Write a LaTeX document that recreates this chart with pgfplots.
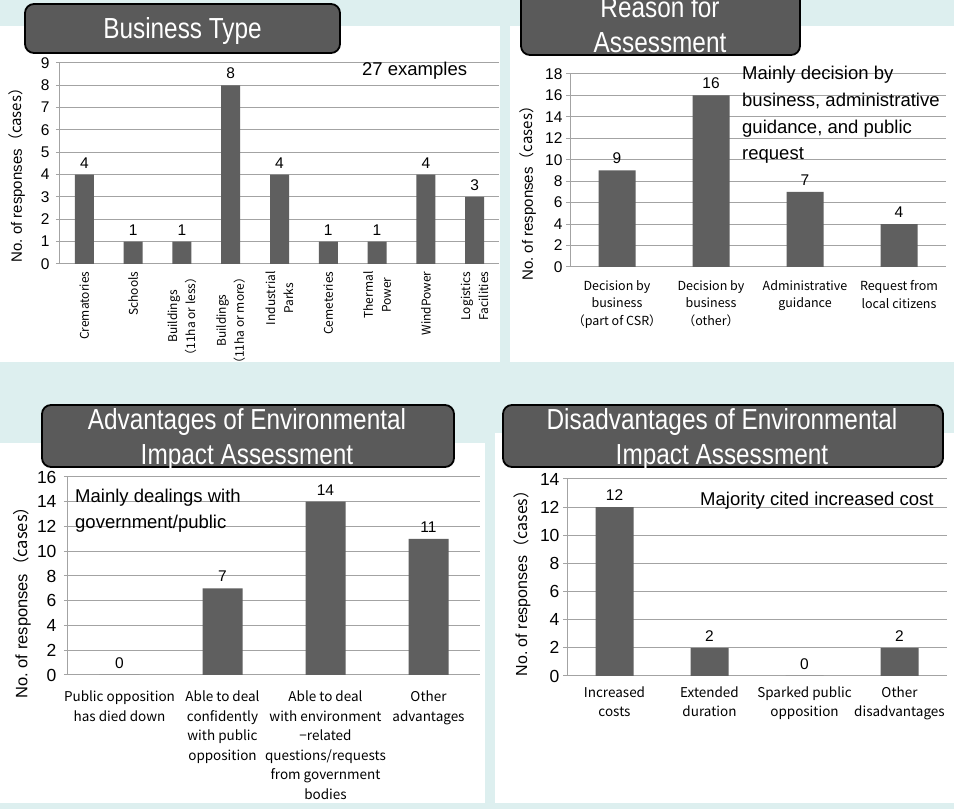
\documentclass[border=0pt]{standalone}
\usepackage{fontspec}
\setmainfont{Liberation Sans}
\newfontfamily\titlefont[FakeStretch=0.84]{Liberation Sans}
\newfontfamily\cjk{Noto Sans CJK JP}
\usepackage{pgfplots}
\pgfplotsset{compat=1.18}

\definecolor{bgc}{HTML}{DDEFEF}
\definecolor{barc}{HTML}{5F5F5F}
\definecolor{gridc}{HTML}{A3A3A3}
\definecolor{titc}{HTML}{5A5A5A}

\newcommand\fs[2]{\fontsize{#1}{#2}\selectfont}

\pgfplotsset{
  panel/.style={
    scale only axis,
    ybar,
    enlargelimits=false,
    clip=false,
    axis x line*=bottom, axis y line*=left,
    axis line style={draw=gridc, line width=1pt, -},
    ymajorgrids, grid style={draw=gridc, line width=1pt},
    ymin=0,
    xtick=data,
    major x tick style={draw=none},
    major y tick style={draw=gridc, line width=1pt},
    tick align=outside, major tick length=4pt,
    /pgf/number format/assume math mode=true,
    xticklabel style={align=center},
    nodes near coords,
    every node near coord/.append style={font=\fs{15.5}{18}, yshift=3pt, text=black},
    ylabel={No.\ of responses\cjk{（}cases\cjk{）}},
  }
}

\begin{document}
\begin{tikzpicture}[x=1pt,y=1pt]
\useasboundingbox (0pt,0pt) rectangle (954pt,809pt);
\clip (0pt,0pt) rectangle (954pt,809pt);
\fill[bgc] (0pt,0pt) rectangle (954pt,809pt);
% white panels
\fill[white] (0pt,447pt) rectangle (500pt,783pt);
\fill[white] (510pt,447pt) rectangle (954pt,783pt);
\fill[white] (0pt,6pt) rectangle (485pt,366pt);
\fill[white] (495pt,6pt) rectangle (954pt,376pt);

% Panel 1: Business Type
\begin{axis}[panel,
  at={(60pt,545pt)}, anchor=south west,
  width=439pt, height=201pt,
  xmin=-0.5, xmax=8.5, ymax=9,
  ytick={0,1,...,9},
  bar width=19pt,
  y tick label style={font=\fs{15.5}{18}, xshift=-3pt},
  ylabel style={font=\fs{15}{18}, at={(axis description cs:0,0.46)}, anchor=center, yshift=43pt},
  xticklabels={Crematories, Schools, {Buildings\\（11ha or less）}, {Buildings\\（11ha or more）}, {Industrial\\Parks}, Cemeteries, {Thermal\\Power}, WindPower, {Logistics\\Facilities}},
  xticklabel style={rotate=90, anchor=east, font=\cjk\fs{12}{18}},
]
\addplot[fill=barc, draw=none] coordinates {(0,4) (1,1) (2,1) (3,8) (4,4) (5,1) (6,1) (7,4) (8,3)};
\end{axis}

% Panel 2: Reason for Assessment
\begin{axis}[panel,
  at={(570pt,542pt)}, anchor=south west,
  width=376pt, height=193pt,
  xmin=-0.5, xmax=3.5, ymax=18,
  ytick={0,2,...,18},
  bar width=37pt,
  y tick label style={font=\fs{15.5}{18}},
  ylabel style={font=\fs{15}{18}, at={(axis description cs:0,0.40)}, anchor=center, yshift=42pt},
  xticklabels={{Decision by\\business\\（part of CSR）}, {Decision by\\business\\（other）}, {Administrative\\guidance}, {Request from\\local citizens}},
  xticklabel style={anchor=north, font=\cjk\fs{12.5}{17.5}, yshift=-6pt},
]
\addplot[fill=barc, draw=none] coordinates {(0,9) (1,16) (2,7) (3,4)};
\end{axis}

% Panel 3: Advantages
\begin{axis}[panel,
  at={(68pt,134pt)}, anchor=south west,
  width=412pt, height=198pt,
  xmin=-0.5, xmax=3.5, ymax=16,
  ytick={0,2,...,16},
  bar width=40pt,
  y tick label style={font=\fs{17.5}{20}, xshift=-4pt},
  ylabel style={font=\fs{16.5}{20}, at={(axis description cs:0,0.386)}, anchor=center, yshift=46pt},
  xticklabels={{Public opposition\\has died down}, {Able to deal\\confidently\\with public\\opposition}, {Able to deal\\with environment\\−related\\questions/requests\\from government\\bodies}, {Other\\advantages}},
  xticklabel style={anchor=north, font=\cjk\fs{13.5}{19.5}, yshift=-8.5pt},
]
\addplot[fill=barc, draw=none] coordinates {(0,0) (1,7) (2,14) (3,11)};
\end{axis}

% Panel 4: Disadvantages
\begin{axis}[panel,
  at={(567pt,133pt)}, anchor=south west,
  width=380pt, height=197pt,
  xmin=-0.5, xmax=3.5, ymax=14,
  ytick={0,2,...,14},
  bar width=38pt,
  y tick label style={font=\fs{17.5}{20}},
  ylabel style={font=\fs{16}{20}, at={(axis description cs:0,0.49)}, anchor=center, yshift=45pt},
  xticklabels={{Increased\\costs}, {Extended\\duration}, {Sparked public\\opposition}, {Other\\disadvantages}},
  xticklabel style={anchor=north, font=\cjk\fs{13.5}{19}, yshift=-3pt},
]
\addplot[fill=barc, draw=none] coordinates {(0,12) (1,2) (2,0) (3,2)};
\end{axis}

% Title boxes
\tikzset{tbox/.style={fill=titc, draw=black, line width=1.8pt, rounded corners=9pt},
         ttext/.style={text=white, font=\titlefont\fs{29}{35}, anchor=base, inner sep=0pt}}
\draw[tbox] (25pt,756pt) rectangle (340pt,805pt);
\node[ttext] at (182.5pt,770pt) {Business Type};

\draw[tbox] (521pt,754pt) rectangle (800pt,870pt);
\node[ttext] at (660pt,791pt) {Reason for};
\node[ttext] at (660pt,756pt) {Assessment};

\draw[tbox] (42pt,342pt) rectangle (454pt,404pt);
\node[ttext] at (247pt,379pt) {Advantages of Environmental};
\node[ttext] at (247pt,344pt) {Impact Assessment};

\draw[tbox] (503pt,342pt) rectangle (943pt,404pt);
\node[ttext] at (722pt,379pt) {Disadvantages of Environmental};
\node[ttext] at (722pt,344pt) {Impact Assessment};

% Annotations
\tikzset{ann/.style={anchor=base west, inner sep=0pt, font=\fs{18.5}{22}}}
\node[ann] at (362pt,733pt) {27 examples};
\node[ann] at (742pt,729pt) {Mainly decision by};
\node[ann] at (742pt,702.3pt) {business, administrative};
\node[ann] at (742pt,675.6pt) {guidance, and public};
\node[ann] at (742pt,649pt) {request};
\node[ann] at (75pt,306pt) {Mainly dealings with};
\node[ann] at (75pt,280pt) {government/public};
\node[ann] at (700pt,303pt) {Majority cited increased cost};
\end{tikzpicture}
\end{document}
